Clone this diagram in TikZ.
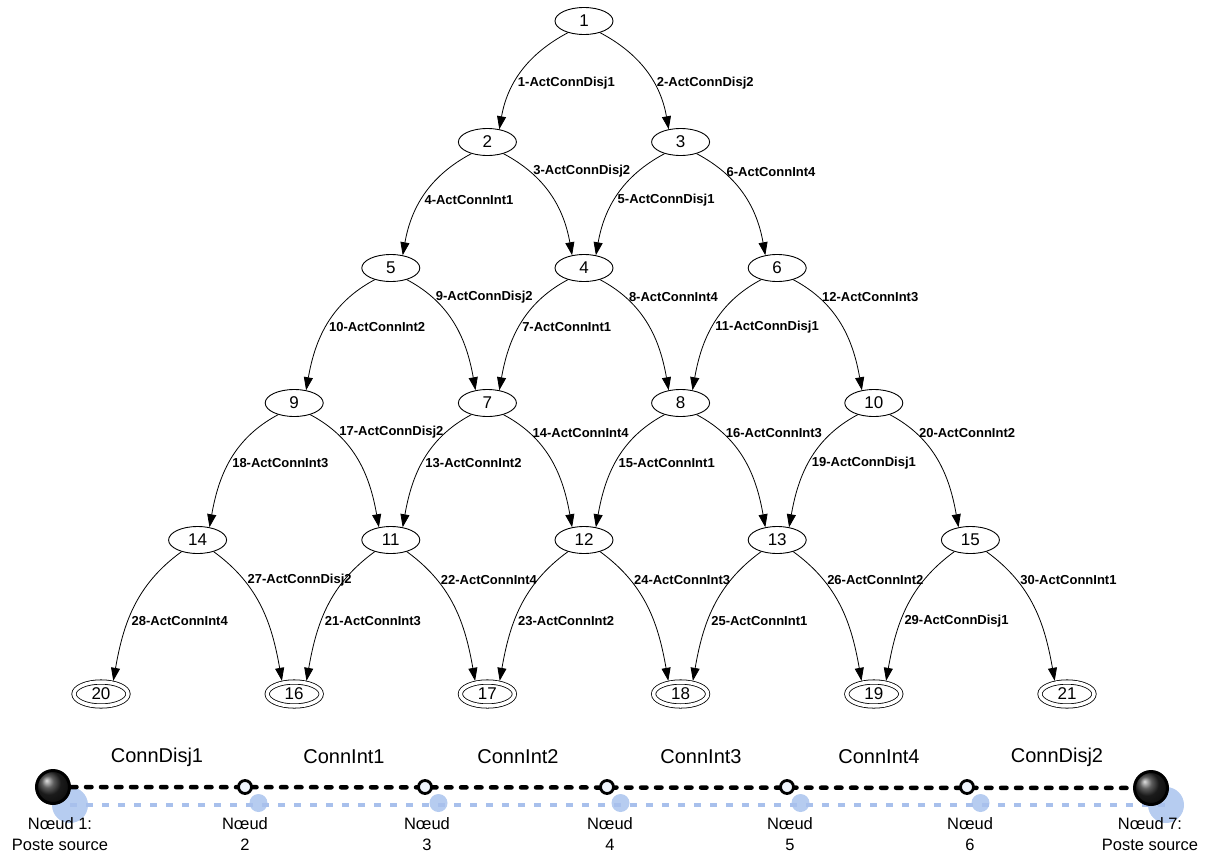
\documentclass[tikz,border=0pt]{standalone}
\usepackage{fontspec}
\setmainfont{Liberation Sans}
\usetikzlibrary{shapes.geometric,arrows.meta,backgrounds}
\definecolor{shadowblue}{RGB}{182,204,240}
\definecolor{dotblue}{RGB}{168,192,236}
\definecolor{pale}{RGB}{238,243,251}
\newcommand\edgeR[5][-28]{\draw[edge] (#2.-36) to[out=#1,in=100] node[lab,pos=#4]{#5} (#3.133);}
\newcommand\edgeL[5][208]{\draw[edge] (#2.216) to[out=#1,in=80] node[lab,pos=#4]{#5} (#3.47);}
\begin{document}
\begin{tikzpicture}[x=1pt,y=1pt,
  el/.style={ellipse, draw, line width=0.9pt, minimum width=58pt, minimum height=27pt, inner sep=0pt, font=\fontsize{17}{17}\selectfont},
  dbl/.style={ellipse, draw, double, double distance=3.5pt, line width=0.8pt, minimum width=54pt, minimum height=24pt, inner sep=0pt, outer sep=2.5pt, font=\fontsize{17}{17}\selectfont},
  edge/.style={-{Triangle[length=13pt,width=9pt]}, line width=0.8pt},
  lab/.style={anchor=west, font=\fontsize{13}{15}\selectfont\bfseries, inner sep=1pt, xshift=2pt},
  ballnode/.style={circle, draw, line width=3pt, minimum size=33pt, inner sep=0pt, shading=ball, ball color=black!85},
  smallnode/.style={circle, draw, line width=2.8pt, minimum size=13pt, inner sep=0pt, fill=pale},
  conn/.style={font=\fontsize{20}{22}\selectfont},
  nlab/.style={font=\fontsize{16.5}{21}\selectfont, align=center}
]
\useasboundingbox (0,0) rectangle (1208,-854);
% tree nodes
\node[el] (n1) at (584,-21) {1};
\node[el] (n2) at (487.4,-142) {2};
\node[el] (n3) at (680.6,-142) {3};
\node[el] (n5) at (390.8,-268) {5};
\node[el] (n4) at (584,-268) {4};
\node[el] (n6) at (777.2,-268) {6};
\node[el] (n9) at (294.2,-403) {9};
\node[el] (n7) at (487.4,-403) {7};
\node[el] (n8) at (680.6,-403) {8};
\node[el] (n10) at (873.8,-403) {10};
\node[el] (n14) at (197.6,-540) {14};
\node[el] (n11) at (390.8,-540) {11};
\node[el] (n12) at (584,-540) {12};
\node[el] (n13) at (777.2,-540) {13};
\node[el] (n15) at (970.4,-540) {15};
\node[dbl] (n20) at (101,-694) {20};
\node[dbl] (n16) at (294.2,-694) {16};
\node[dbl] (n17) at (487.4,-694) {17};
\node[dbl] (n18) at (680.6,-694) {18};
\node[dbl] (n19) at (873.8,-694) {19};
\node[dbl] (n21) at (1067,-694) {21};
% edges row 0
\edgeL{n1}{n2}{0.61}{1-ActConnDisj1}
\edgeR{n1}{n3}{0.61}{2-ActConnDisj2}
% row 1
\edgeR{n2}{n4}{0.24}{3-ActConnDisj2}
\edgeL{n2}{n5}{0.55}{4-ActConnInt1}
\edgeL{n3}{n4}{0.55}{5-ActConnDisj1}
\edgeR{n3}{n6}{0.24}{6-ActConnInt4}
% row 2
\edgeL{n4}{n7}{0.52}{7-ActConnInt1}
\edgeR{n4}{n8}{0.22}{8-ActConnInt4}
\edgeR{n5}{n7}{0.22}{9-ActConnDisj2}
\edgeL{n5}{n9}{0.52}{10-ActConnInt2}
\edgeL{n6}{n8}{0.52}{11-ActConnDisj1}
\edgeR{n6}{n10}{0.22}{12-ActConnInt3}
% row 3
\edgeL{n7}{n11}{0.52}{13-ActConnInt2}
\edgeR{n7}{n12}{0.22}{14-ActConnInt4}
\edgeL{n8}{n12}{0.52}{15-ActConnInt1}
\edgeR{n8}{n13}{0.22}{16-ActConnInt3}
\edgeR{n9}{n11}{0.22}{17-ActConnDisj2}
\edgeL{n9}{n14}{0.52}{18-ActConnInt3}
\edgeL{n10}{n13}{0.52}{19-ActConnDisj1}
\edgeR{n10}{n15}{0.22}{20-ActConnInt2}
% row 4
\edgeL[216]{n11}{n16}{0.6}{21-ActConnInt3}
\edgeR[-36]{n11}{n17}{0.27}{22-ActConnInt4}
\edgeL[216]{n12}{n17}{0.6}{23-ActConnInt2}
\edgeR[-36]{n12}{n18}{0.27}{24-ActConnInt3}
\edgeL[216]{n13}{n18}{0.6}{25-ActConnInt1}
\edgeR[-36]{n13}{n19}{0.27}{26-ActConnInt2}
\edgeR[-36]{n14}{n16}{0.27}{27-ActConnDisj2}
\edgeL[216]{n14}{n20}{0.6}{28-ActConnInt4}
\edgeL[216]{n15}{n19}{0.6}{29-ActConnDisj1}
\edgeR[-36]{n15}{n21}{0.27}{30-ActConnInt1}
% bottom line
\node[ballnode] (p1) at (53,-787) {};
\node[smallnode] (p2) at (245,-787) {};
\node[smallnode] (p3) at (425,-787) {};
\node[smallnode] (p4) at (607,-787) {};
\node[smallnode] (p5) at (787,-787) {};
\node[smallnode] (p6) at (967,-787) {};
\node[ballnode] (p7) at (1151,-788) {};
\coordinate (s1) at (70,-805);
\coordinate (s7) at (1166,-805);
\begin{pgfonlayer}{background}
  \fill[shadowblue] (s1) circle (18);
  \fill[shadowblue] (s7) circle (18);
  \foreach \x in {258.5,438.5,620.5,800.5,980.5} \fill[shadowblue] (\x,-803) circle (9);
  \draw[dotblue, line width=4.5pt, dash pattern=on 7pt off 9pt] (s1) -- (s7);
  \draw[black, line width=4.5pt, line cap=round, dash pattern=on 5.5pt off 9.5pt] (p1) -- (p7);
\end{pgfonlayer}
% segment labels
\node[conn] (c1) at (157,-757) {ConnDisj1};
\node[conn] (c2) at (344,-757) {ConnInt1};
\node[conn] (c3) at (518,-757) {ConnInt2};
\node[conn] (c4) at (701,-757) {ConnInt3};
\node[conn] (c5) at (879,-757) {ConnInt4};
\node[conn] (c6) at (1057,-757) {ConnDisj2};
% node labels
\node[nlab] (t1) at (60,-834) {Nœud 1:\\Poste source};
\node[nlab] (t2) at (245,-834) {Nœud\\2};
\node[nlab] (t3) at (427,-834) {Nœud\\3};
\node[nlab] (t4) at (610,-834) {Nœud\\4};
\node[nlab] (t5) at (790,-834) {Nœud\\5};
\node[nlab] (t6) at (970,-834) {Nœud\\6};
\node[nlab] (t7) at (1150,-834) {Nœud 7:\\Poste source};
\end{tikzpicture}
\end{document}
